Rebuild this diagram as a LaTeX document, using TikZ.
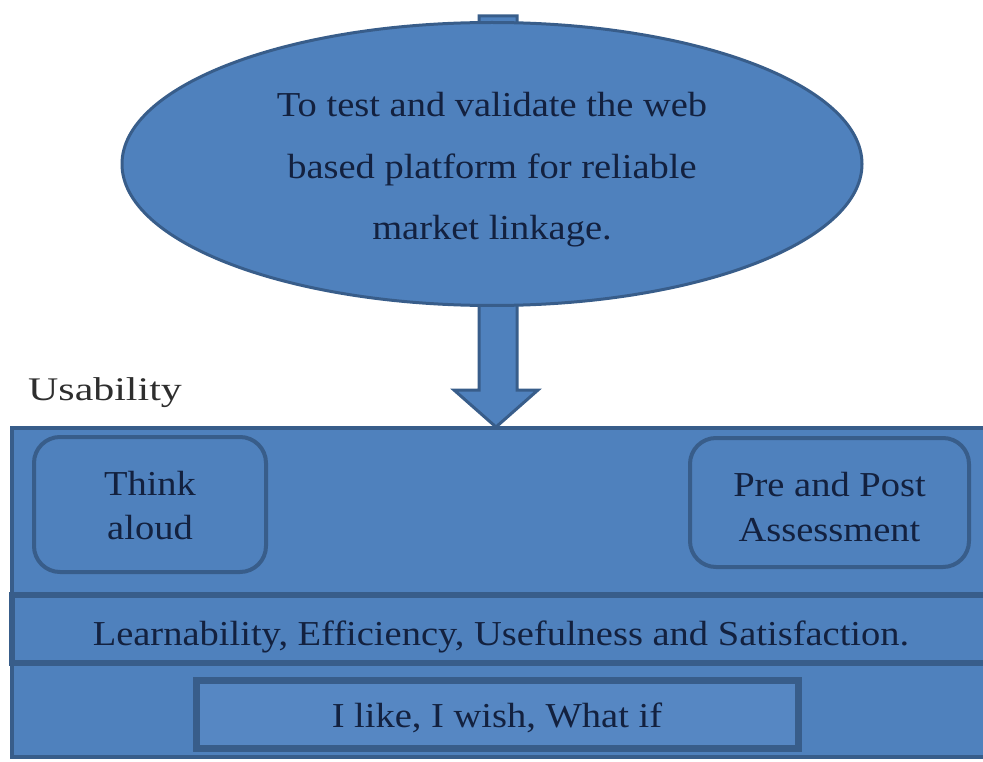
\documentclass[tikz,border=0pt]{standalone}
\usepackage{fontspec}
\setmainfont{Liberation Serif}
\newfontfamily\bodyfont[FakeStretch=1.1]{Liberation Serif}
\newfontfamily\labfont[FakeStretch=1.27]{Liberation Serif}
\usetikzlibrary{shapes.geometric}
\definecolor{boxblue}{HTML}{4F81BD}
\definecolor{lightblue}{HTML}{5687C3}
\definecolor{edgeblue}{HTML}{385D8A}
\definecolor{inkblue}{HTML}{13213F}
\definecolor{labgray}{HTML}{2E2E2E}
\tikzset{
  bluefill/.style={fill=boxblue, draw=edgeblue},
  bodytext/.style={text=inkblue, font=\bodyfont\fontsize{35}{44}\selectfont, align=center, inner sep=0pt},
  roundbox/.style={bluefill, line width=4pt, rounded corners=26pt, inner sep=0pt},
}
\begin{document}
\begin{tikzpicture}[x=1pt, y=-1pt]
\useasboundingbox (0,0) rectangle (983,762);
% block arrow (drawn behind the ellipse)
\draw[bluefill, line width=3pt, line join=miter]
  (479,16) -- (517,16) -- (517,390) -- (538,390) -- (496,427) -- (454,390) -- (479,390) -- cycle;
% goal ellipse
\node[ellipse, bluefill, line width=3pt, minimum width=740pt, minimum height=283pt, inner sep=0pt] (goal) at (492,164) {};
\node[bodytext, font=\bodyfont\fontsize{35}{61.5}\selectfont] (goaltext) at ([yshift=-6pt]goal.center)
  {To test and validate the web\\based platform for reliable\\market linkage.};
% outer usability box
\node[bluefill, line width=4pt, minimum width=978pt, minimum height=329pt, inner sep=0pt] (usab) at (501,592.5) {};
\node[anchor=base west, inner sep=0pt, text=labgray, font=\labfont\fontsize{33}{40}\selectfont] (usablabel) at (28,400) {Usability};
% rounded boxes
\node[roundbox, minimum width=232pt, minimum height=135pt] (think) at (150,504.5) {};
\node[bodytext] (thinktext) at ([yshift=-1pt]think.center) {Think\\aloud};
\node[roundbox, minimum width=279pt, minimum height=129pt] (prepost) at (829.5,502.5) {};
\node[bodytext, font=\bodyfont\fontsize{35}{45}\selectfont] (preposttext) at ([yshift=-5pt]prepost.center) {Pre and Post\\Assessment};
% band
\node[bluefill, line width=6pt, minimum width=978pt, minimum height=68pt, inner sep=0pt] (band) at (501,629) {};
\node[bodytext] (bandtext) at ([yshift=-8pt]band.center) {Learnability, Efficiency, Usefulness and Satisfaction.};
% bottom box
\node[fill=lightblue, draw=edgeblue, line width=7pt, minimum width=602pt, minimum height=68pt, inner sep=0pt] (ilike) at (497,714) {};
\node[bodytext] (iliketext) at ([yshift=-4pt]ilike.center) {I like, I wish, What if};
\end{tikzpicture}
\end{document}
